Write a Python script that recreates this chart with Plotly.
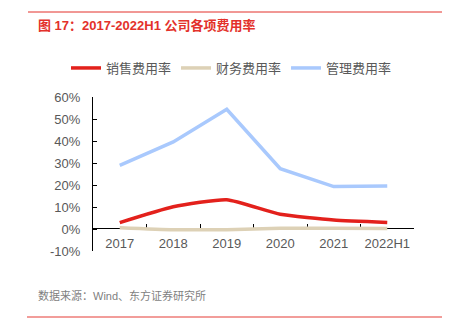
import plotly.graph_objects as go

years = ["2017", "2018", "2019", "2020", "2021", "2022H1"]
sales_rate = [2.9, 10.1, 13.3, 6.7, 4.1, 3.0]
finance_rate = [0.6, -0.3, -0.3, 0.3, 0.3, 0.2]
admin_rate = [28.9, 39.6, 54.4, 27.4, 19.3, 19.6]
y_ticks = [-10, 0, 10, 20, 30, 40, 50, 60]

FONT = "Liberation Sans, Arial, Noto Sans CJK SC, sans-serif"
GRAY = "#595959"

fig = go.Figure()
fig.add_trace(go.Scatter(x=years, y=sales_rate, name="销售费用率", mode="lines",
                         line=dict(color="#E3211C", width=3.5, shape="spline", smoothing=0.5)))
fig.add_trace(go.Scatter(x=years, y=finance_rate, name="财务费用率", mode="lines",
                         line=dict(color="#DDD1B6", width=3.5, shape="spline", smoothing=0.5)))
fig.add_trace(go.Scatter(x=years, y=admin_rate, name="管理费用率", mode="lines",
                         line=dict(color="#A9C9FD", width=3.5)))

PL, PR, PT, PB = 93, 414, 97, 251
W, H = 453, 323
pw, ph = PR - PL, PB - PT
def px(x): return (x - PL) / pw
def py(y): return (PB - y) / ph

fig.update_layout(
    width=W, height=H,
    margin=dict(l=PL, r=W - PR, t=PT, b=H - PB, pad=0),
    paper_bgcolor="white", plot_bgcolor="white",
    font=dict(family=FONT, size=13, color=GRAY),
    showlegend=True,
    legend=dict(orientation="h", x=px(66), y=py(68), xanchor="left", yanchor="middle",
                font=dict(size=13, color=GRAY), itemwidth=30, tracegroupgap=0,
                bgcolor="rgba(0,0,0,0)"),
    xaxis=dict(type="category", range=[-0.5, len(years) - 0.5],
               showline=True, linecolor="black", linewidth=1,
               ticks="inside", ticklen=4, tickcolor="black", tickson="boundaries",
               showgrid=False, anchor="free", position=py(228), layer="below traces",
               ticklabelstandoff=3, tickangle=0,
               tickfont=dict(size=13, color=GRAY), fixedrange=True),
    yaxis=dict(range=[-10, 60], tickvals=y_ticks, ticktext=[f"{v}%" for v in y_ticks],
               showline=True, linecolor="black", linewidth=1,
               ticks="inside", ticklen=4, tickcolor="black",
               showgrid=False, zeroline=False, ticklabelstandoff=9,
               tickfont=dict(size=13, color=GRAY)),
    shapes=[
        dict(type="line", xref="paper", yref="paper", x0=px(28), x1=px(442), y0=py(12), y1=py(12),
             line=dict(color="#E3312B", width=1)),
        dict(type="line", xref="paper", yref="paper", x0=px(27), x1=px(442), y0=py(317), y1=py(317),
             line=dict(color="#EE7C78", width=1.5)),
    ],
    annotations=[
        dict(text="<b>图 17：2017-2022H1 公司各项费用率</b>", xref="paper", yref="paper",
             x=px(36), y=py(25), xanchor="left", yanchor="middle", showarrow=False,
             font=dict(size=13, color="#E3312B", family=FONT)),
        dict(text="数据来源：Wind、东方证券研究所", xref="paper", yref="paper",
             x=px(36), y=py(295), xanchor="left", yanchor="middle", showarrow=False,
             font=dict(size=11, color="#7F7F7F", family=FONT)),
    ],
)

fig.write_html("out.html")
